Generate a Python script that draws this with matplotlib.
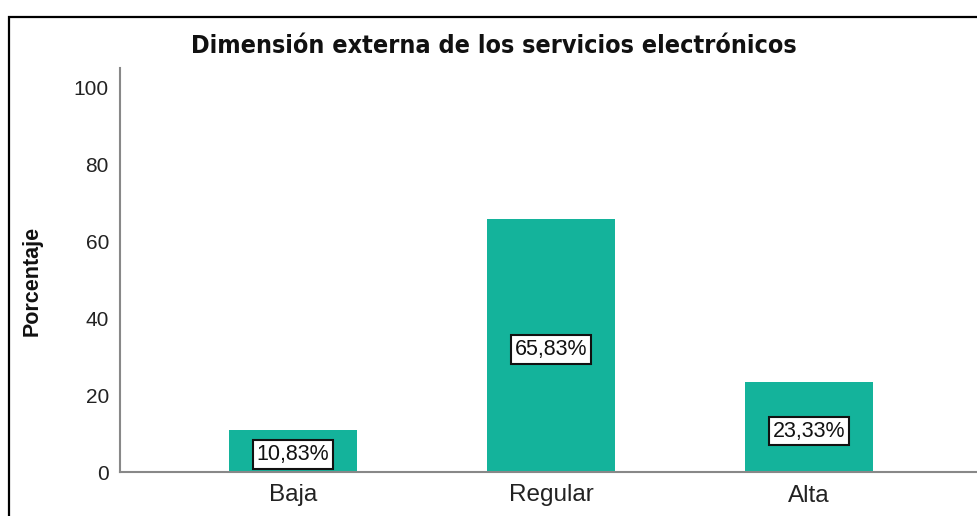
import matplotlib
matplotlib.use("Agg")
import matplotlib.pyplot as plt
from matplotlib.patches import Rectangle

categories = ["Baja", "Regular", "Alta"]
values = [10.83, 65.83, 23.33]
labels = ["10,83%", "65,83%", "23,33%"]
yticks = [0, 20, 40, 60, 80, 100]

W, H = 977, 516
fig = plt.figure(figsize=(W / 100, H / 100), dpi=100)
fig.patch.set_facecolor("white")
FAM = ["Liberation Sans", "DejaVu Sans"]

ax = fig.add_axes([120 / W, 1 - 472 / H, 1 - 120 / W, (472 - 68) / H])
x = list(range(len(categories)))
ax.bar(x, values, width=0.496, color="#14b39b", edgecolor="none", zorder=2)

for xi, v, lab in zip(x, values, labels):
    ax.text(xi, max(v / 2 - 1.0, 4.6), lab, ha="center", va="center", fontsize=15.5,
            family=FAM, color="#111111",
            bbox=dict(boxstyle="square,pad=0.18", facecolor="white",
                      edgecolor="#111111", linewidth=1.5), zorder=3)

ax.set_xlim(-0.67, 2.651)
ax.set_ylim(0, 105.2)
ax.set_yticks(yticks)
ax.set_yticklabels([str(t) for t in yticks], family=FAM, fontsize=15, color="#222222")
ax.set_xticks(x)
ax.set_xticklabels(categories, family=FAM, fontsize=17.5, color="#222222")
ax.tick_params(axis="y", length=0, pad=8)
ax.tick_params(axis="x", length=0, pad=9)
for s in ["top", "right"]:
    ax.spines[s].set_visible(False)
for s in ["left", "bottom"]:
    ax.spines[s].set_color("#888888")
    ax.spines[s].set_linewidth(1.5)

ax.set_ylabel("Porcentaje", family=FAM, fontsize=15.5, fontweight="bold",
              fontstretch="normal", color="#111111")
ax.yaxis.set_label_coords((43 - 120) / 857, (472 - 281) / 404)

fig.text(494 / W, 1 - 46 / H, "Dimensión externa de los servicios electrónicos",
         ha="center", va="center", fontsize=18, fontweight="bold",
         fontstretch="condensed",
         family=["DejaVu Sans", "Liberation Sans"], color="#111111")

border = Rectangle((9 / W, -0.1), 2.0, (1 - 16.5 / H) + 0.1, transform=fig.transFigure,
                   fill=False, edgecolor="black", linewidth=1.6, clip_on=False)
fig.add_artist(border)

fig.savefig("out.png", dpi=100, facecolor="white")
